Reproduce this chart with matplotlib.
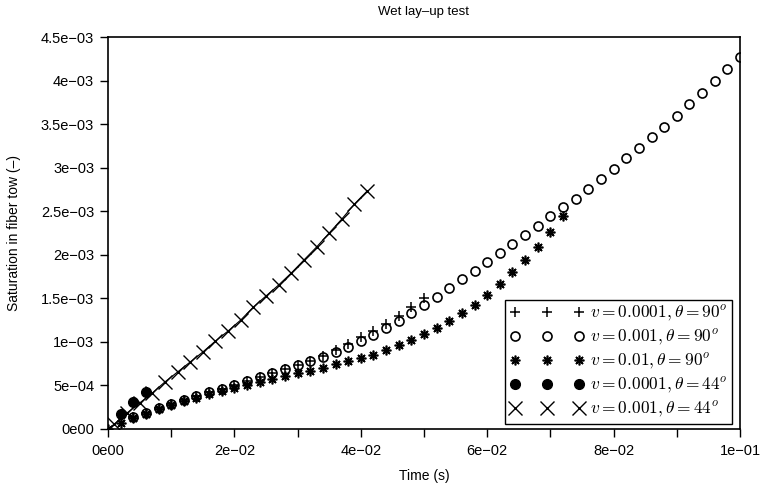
import numpy as np
import matplotlib
matplotlib.use("Agg")
import matplotlib.pyplot as plt
from matplotlib.ticker import MultipleLocator, FixedLocator

plt.rcParams['font.family'] = ['Liberation Sans', 'DejaVu Sans']
plt.rcParams['mathtext.fontset'] = 'cm'
plt.rcParams['axes.unicode_minus'] = True

# series: v=0.001, theta=90 (open circles)
t_circ = [0.004, 0.006, 0.008, 0.010, 0.012, 0.014, 0.016, 0.018, 0.020, 0.022,
          0.024, 0.026, 0.028, 0.030, 0.032, 0.034, 0.036, 0.038, 0.040, 0.042,
          0.044, 0.046, 0.048, 0.050, 0.052, 0.054, 0.056, 0.058, 0.060, 0.062,
          0.064, 0.066, 0.068, 0.070, 0.072, 0.074, 0.076, 0.078, 0.080, 0.082,
          0.084, 0.086, 0.088, 0.090, 0.092, 0.094, 0.096, 0.098, 0.100]
s_circ = [1.38e-4, 1.84e-4, 2.41e-4, 2.87e-4, 3.33e-4, 3.79e-4, 4.25e-4, 4.59e-4, 5.05e-4, 5.51e-4,
          5.97e-4, 6.43e-4, 6.89e-4, 7.35e-4, 7.81e-4, 8.27e-4, 8.84e-4, 9.41e-4, 1.010e-3, 1.079e-3,
          1.159e-3, 1.240e-3, 1.332e-3, 1.424e-3, 1.515e-3, 1.619e-3, 1.722e-3, 1.814e-3, 1.917e-3, 2.020e-3,
          2.124e-3, 2.227e-3, 2.330e-3, 2.445e-3, 2.548e-3, 2.640e-3, 2.755e-3, 2.870e-3, 2.985e-3, 3.111e-3,
          3.226e-3, 3.352e-3, 3.467e-3, 3.593e-3, 3.731e-3, 3.857e-3, 3.995e-3, 4.133e-3, 4.271e-3]

# series: v=0.0001, theta=90 (plus)
t_plus = [0.004, 0.006, 0.008, 0.010, 0.012, 0.014, 0.016, 0.018, 0.020, 0.022,
          0.024, 0.026, 0.028, 0.030, 0.032, 0.034, 0.036, 0.038, 0.040, 0.042,
          0.044, 0.046, 0.048, 0.050]
s_plus = [1.38e-4, 1.84e-4, 2.41e-4, 2.87e-4, 3.33e-4, 3.79e-4, 4.25e-4, 4.59e-4, 5.05e-4, 5.51e-4,
          5.97e-4, 6.43e-4, 6.89e-4, 7.35e-4, 7.81e-4, 8.39e-4, 9.07e-4, 9.76e-4, 1.056e-3, 1.125e-3,
          1.205e-3, 1.297e-3, 1.401e-3, 1.504e-3]

# series: v=0.01, theta=90 (asterisk)
t_star = [0.000, 0.002, 0.004, 0.006, 0.008, 0.010, 0.012, 0.014, 0.016, 0.018,
          0.020, 0.022, 0.024, 0.026, 0.028, 0.030, 0.032, 0.034, 0.036, 0.038,
          0.040, 0.042, 0.044, 0.046, 0.048, 0.050, 0.052, 0.054, 0.056, 0.058,
          0.060, 0.062, 0.064, 0.066, 0.068, 0.070, 0.072]
s_star = [0.0, 6.9e-5, 1.26e-4, 1.72e-4, 2.30e-4, 2.76e-4, 3.21e-4, 3.56e-4, 4.02e-4, 4.36e-4,
          4.71e-4, 5.05e-4, 5.40e-4, 5.74e-4, 6.08e-4, 6.43e-4, 6.66e-4, 7.00e-4, 7.46e-4, 7.81e-4,
          8.15e-4, 8.50e-4, 9.07e-4, 9.64e-4, 1.022e-3, 1.091e-3, 1.159e-3, 1.240e-3, 1.332e-3, 1.424e-3,
          1.538e-3, 1.665e-3, 1.802e-3, 1.940e-3, 2.089e-3, 2.261e-3, 2.445e-3]

# series: v=0.0001, theta=44 (filled circles)
t_fill = [0.002, 0.004, 0.006]
s_fill = [1.72e-4, 3.10e-4, 4.25e-4]

# series: v=0.001, theta=44 (crosses, joined by a thin line)
t_x = [0.000, 0.001, 0.003, 0.005, 0.007, 0.009, 0.011, 0.013, 0.015, 0.017, 0.019,
       0.021, 0.023, 0.025, 0.027, 0.029, 0.031, 0.033, 0.035, 0.037, 0.039, 0.041]
s_x = [0.0, 5.7e-5, 1.84e-4, 2.98e-4, 4.13e-4, 5.40e-4, 6.54e-4, 7.69e-4, 8.84e-4, 1.010e-3, 1.125e-3,
       1.251e-3, 1.400e-3, 1.527e-3, 1.653e-3, 1.791e-3, 1.940e-3, 2.089e-3, 2.250e-3, 2.411e-3, 2.583e-3, 2.732e-3]

labels = [r'$v = 0.0001, \theta = 90^o$',
          r'$v = 0.001, \theta = 90^o$',
          r'$v = 0.01, \theta = 90^o$',
          r'$v = 0.0001, \theta = 44^o$',
          r'$v = 0.001, \theta = 44^o$']

xticks = [0.0, 0.02, 0.04, 0.06, 0.08, 0.10]
xticklabels = ['0e00', '2e\u221202', '4e\u221202', '6e\u221202', '8e\u221202', '1e\u221201']
yticks = [0.0, 5e-4, 1e-3, 1.5e-3, 2e-3, 2.5e-3, 3e-3, 3.5e-3, 4e-3, 4.5e-3]
yticklabels = ['0e00', '5e\u221204', '1e\u221203', '1.5e\u221203', '2e\u221203', '2.5e\u221203',
               '3e\u221203', '3.5e\u221203', '4e\u221203', '4.5e\u221203']

fig = plt.figure(figsize=(7.61, 4.95), dpi=100)
ax = fig.add_axes([108/761, 1-429/495, (740-108)/761, (429-37)/495])

k = 'black'
ax.plot(t_plus, s_plus, linestyle='none', marker='+', ms=7, mew=1.1, color=k, label=labels[0])
ax.plot(t_circ, s_circ, linestyle='none', marker='o', ms=6.5, mew=1.2, mfc='none', mec=k, label=labels[1])
ax.plot(t_star, s_star, linestyle='none', marker=(8, 2, 0), ms=7, mew=1.2, color=k, label=labels[2])
ax.plot(t_fill, s_fill, linestyle='none', marker='o', ms=7, color=k, label=labels[3])
ax.plot(t_x, s_x, linestyle='-', lw=0.8, color=k, label='_nolegend_')
ax.plot(t_x[1:], s_x[1:], linestyle='none', marker='x', ms=10, mew=1.0, color=k, label=labels[4])

ax.set_xlim(0, 0.1)
ax.set_ylim(0, 4.5e-3)
ax.xaxis.set_major_locator(FixedLocator(xticks))
ax.set_xticklabels(xticklabels)
ax.xaxis.set_minor_locator(MultipleLocator(0.01))
ax.yaxis.set_major_locator(FixedLocator(yticks))
ax.set_yticklabels(yticklabels)
ax.tick_params(axis='both', which='both', direction='out', length=6, width=1.0,
               labelsize=10.5, pad=4, top=False, right=False)
ax.tick_params(axis='x', pad=5)
for s in ax.spines.values():
    s.set_linewidth(1.2)

ax.set_title('Wet lay\u2013up test', fontsize=9.5, pad=16)
ax.set_xlabel('Time (s)', fontsize=10, labelpad=8)
ax.set_ylabel('Saturation in fiber tow (\u2013)', fontsize=10, labelpad=14)

leg = ax.legend(loc='lower right', bbox_to_anchor=((732-108)/632, 5/392), borderaxespad=0,
                numpoints=3, fontsize=12.5, handlelength=4.3, handletextpad=0.33,
                borderpad=0.25, labelspacing=0.22, fancybox=False, framealpha=1,
                edgecolor='black')
leg.get_frame().set_linewidth(1.0)

fig.savefig('out.png', dpi=100)
